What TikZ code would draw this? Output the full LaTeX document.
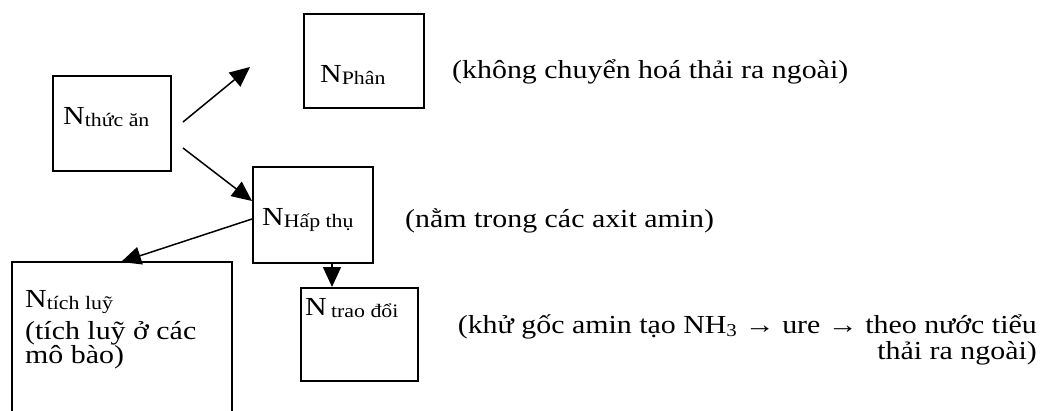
\documentclass[tikz,border=0pt]{standalone}
\usepackage{fontspec}
\setmainfont{Liberation Serif}[FakeStretch=1.15]
\usetikzlibrary{arrows.meta}
\tikzset{
  boxline/.style={draw=black, line width=1.8pt},
  box/.style={boxline, rectangle, inner sep=0pt, anchor=north west},
  lbl/.style={anchor=base west, inner sep=0pt, font=\fontsize{26}{30}\selectfont},
  note/.style={inner sep=0pt, font=\fontsize{26}{28}\selectfont},
  conn/.style={line width=1.5pt, -{Triangle[length=20pt,width=18pt]}},
}
\newcommand{\sbs}[1]{\raisebox{-2pt}{\fontsize{19}{21}\selectfont #1}}
\begin{document}
\begin{tikzpicture}[x=1pt,y=-1pt]
\useasboundingbox (0,0) rectangle (1042,410);
% boxes
\node[box, minimum width=118pt, minimum height=95pt] (thuc) at (52,75) {};
\node[box, minimum width=120pt, minimum height=94pt] (phan) at (303,13) {};
\node[box, minimum width=120pt, minimum height=96pt] (hap) at (252,166) {};
\node[box, minimum width=117pt, minimum height=93pt] (trao) at (300,287) {};
\coordinate (tlbl) at (12,420);
\coordinate (tltl) at (12,262);
\coordinate (tltr) at (232,262);
\coordinate (tlbr) at (232,420);
\draw[boxline] (tlbl) -- (tltl) -- (tltr) -- (tlbr);
\coordinate (tltop) at (121,262);
% labels
\node[lbl] (lthuc) at (63,124) {N\sbs{thức ăn}};
\node[lbl] (lphan) at (320,82) {N\sbs{Phân}};
\node[lbl] (lhap) at (262,225) {N\sbs{Hấp thụ}};
\node[lbl] (ltrao) at (305,315) {N\,\sbs{trao đổi}};
\node[lbl] (ltich) at (25,307) {N\sbs{tích luỹ}};
\node[lbl, font=\fontsize{26}{24}\selectfont] (ltich2) at (25,339) {(tích luỹ ở các};
\node[lbl, font=\fontsize{26}{24}\selectfont] (ltich3) at (25,363) {mô bào)};
% notes
\node[note, anchor=base west] (n1) at (452,78) {(không chuyển hoá thải ra ngoài)};
\node[note, anchor=base west] (n2) at (405,227) {(nằm trong các axit amin)};
\node[note, anchor=base east] (n3a) at (1037,333) {(khử gốc amin tạo NH\textsubscript{3} → ure → theo nước tiểu};
\node[note, anchor=base east] (n3b) at (1037,359) {thải ra ngoài)};
% connectors
\coordinate (a1s) at (183,122);
\coordinate (a1e) at (250,67);
\coordinate (a2s) at (183,148);
\coordinate (a4x) at (332,0);
\draw[conn] (a1s) -- (a1e);
\draw[conn] (a2s) -- (hap.west |- 0,201);
\draw[conn] (hap.west |- 0,219) -- (tltop);
\draw[conn] (hap.south -| a4x) -- (trao.north -| a4x);
\end{tikzpicture}
\end{document}
